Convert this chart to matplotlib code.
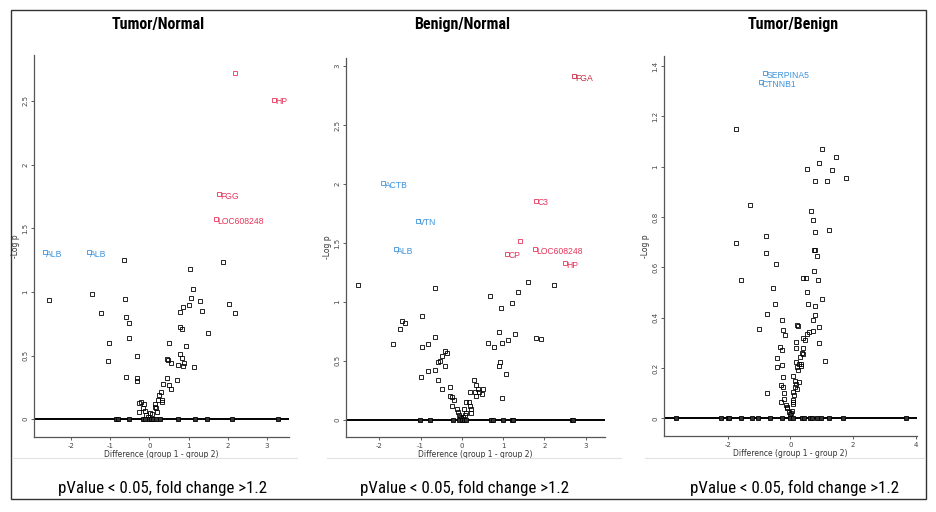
import matplotlib.pyplot as plt
from matplotlib import font_manager
from matplotlib.patches import Rectangle
from matplotlib.lines import Line2D

W, H = 936, 512
RED = '#e8345a'
DARKRED = '#c42a40'
BLUE = '#3b93db'

titles = ['Tumor/Normal', 'Benign/Normal', 'Tumor/Benign']
note = 'pValue < 0.05, fold change >1.2'

# panel 1: Tumor/Normal
tn_x = [-2.55, -1.45, -1.22, -1.04, -1.05, -0.65, -0.63, -0.60, -0.51, -0.53, -0.31, -0.60,
        -0.31, -0.31, -0.20, -0.27, -0.14, -0.27, -0.15, -0.10, -0.085, -0.03, 0.02, 0.07,
        0.15, 0.15, 0.17, 0.19, 0.22, 0.24, 0.31, 0.32, 0.32, 0.36, 0.44, 0.49, 0.56, 0.70,
        0.49, 0.44, 0.48, 0.56, 0.73, 0.77, 0.83, 0.88, 0.87, 0.94, 1.14, 0.78, 0.83, 0.78,
        0.85, 1.00, 1.05, 1.12, 1.04, 1.28, 1.33, 1.50, 1.89, 2.02, 2.18]
tn_y = [0.935, 0.98, 0.83, 0.60, 0.46, 1.25, 0.945, 0.80, 0.757, 0.64, 0.50, 0.33,
        0.327, 0.30, 0.136, 0.128, 0.123, 0.058, 0.084, 0.065, 0.031, 0.018, 0.05, 0.04,
        0.118, 0.097, 0.084, 0.058, 0.154, 0.188, 0.215, 0.154, 0.136, 0.275, 0.327, 0.27,
        0.238, 0.306, 0.597, 0.476, 0.463, 0.445, 0.424, 0.508, 0.482, 0.442, 0.42, 0.573,
        0.41, 0.725, 0.712, 0.843, 0.882, 0.895, 0.953, 1.024, 1.178, 0.929, 0.851, 0.678,
        1.233, 0.903, 0.835]
tn_zero = [-0.85, -0.80, -0.51, -0.15, -0.10, -0.02, 0.05, 0.10, 0.17, 0.26, 0.73, 1.16,
           1.46, 2.11, 3.27]
tn_names = ['ALB', 'ALB', '', 'HP', 'FGG', 'LOC608248']
tn_lx = [-2.67, -1.55, 2.19, 3.18, 1.77, 1.70]
tn_ly = [1.31, 1.31, 2.72, 2.51, 1.77, 1.57]
tn_col = [BLUE, BLUE, RED, RED, RED, RED]

# panel 2: Benign/Normal
bn_x = [-2.52, -1.68, -1.49, -1.46, -1.38, -0.96, -0.96, -0.83, -0.98, -0.83, -0.65, -0.64,
        -0.65, -0.57, -0.52, -0.48, -0.40, -0.35, -0.41, -0.57, -0.48, -0.28, -0.28, -0.23,
        -0.20, -0.23, -0.12, -0.10, -0.06, -0.04, -0.01, 0.02, 0.07, 0.06, 0.10, 0.10, 0.17,
        0.19, 0.22, 0.23, 0.20, 0.30, 0.35, 0.38, 0.31, 0.41, 0.35, 0.48, 0.52, 0.64, 0.77,
        0.67, 0.90, 0.93, 0.91, 0.98, 0.94, 1.06, 0.98, 1.12, 1.21, 1.28, 1.35, 1.60, 1.80,
        1.91, 2.23]
bn_y = [1.145, 0.64, 0.77, 0.84, 0.82, 0.88, 0.62, 0.643, 0.36, 0.416, 0.70, 1.12,
        0.425, 0.487, 0.496, 0.54, 0.584, 0.567, 0.453, 0.34, 0.263, 0.278, 0.198, 0.19,
        0.17, 0.119, 0.09, 0.068, 0.04, 0.023, 0.011, 0.023, 0.042, 0.09, 0.057, 0.147, 0.147,
        0.119, 0.09, 0.057, 0.232, 0.34, 0.297, 0.26, 0.232, 0.238, 0.198, 0.221, 0.263, 0.652,
        0.618, 1.054, 0.453, 0.493, 0.742, 0.652, 0.952, 0.39, 0.181, 0.674, 0.99, 0.725,
        1.088, 1.167, 0.697, 0.686, 1.139]
bn_zero = [-1.01, -0.77, -0.22, -0.06, 0.01, 0.06, 0.09, 0.70, 0.75, 0.99, 1.22, 1.25,
           2.67, 2.70]
bn_names = ['ACTB', 'VTN', 'ALB', 'C3', '', 'CP', 'LOC608248', 'HP', 'FGA']
bn_lx = [-1.91, -1.07, -1.60, 1.80, 1.40, 1.10, 1.78, 2.50, 2.72]
bn_ly = [2.01, 1.69, 1.445, 1.86, 1.513, 1.41, 1.45, 1.33, 2.92]
bn_col = [BLUE, BLUE, BLUE, RED, RED, RED, RED, RED, DARKRED]

# panel 3: Tumor/Benign
tb_x = [-1.73, -1.58, -1.01, -0.77, -0.77, -0.75, -0.75, -0.46, -0.54, -0.48, -0.27, -0.24,
        -0.16, -0.33, -0.27, -0.41, -0.41, -0.27, -0.24, -0.29, -0.24, -0.20, -0.29, -0.20,
        -0.14, -0.12, -0.10, -0.03, -0.01, 0.03, 0.05, 0.07, 0.10, 0.10, 0.07, 0.10, 0.12,
        0.16, 0.14, 0.20, 0.18, 0.27, 0.18, 0.20, 0.24, 0.18, 0.18, 0.22, 0.24, 0.29, 0.33,
        0.35, 0.31, 0.37, 0.41, 0.39, 0.46, 0.39, 0.54, 0.58, 0.41, 0.50, 0.52, 0.56, 0.71,
        0.73, 0.75, 0.79, 0.75, 0.79, 0.79, 0.79, 0.84, 0.88, 0.90, 0.90, 1.01, 1.12, 1.22,
        -1.73, -1.29, 1.01, 1.46, 0.93, 0.52, 1.33, 1.76, 0.78, 1.18, 0.67, 0.72]
tb_y = [0.695, 0.548, 0.356, 0.726, 0.657, 0.416, 0.102, 0.612, 0.52, 0.455, 0.389, 0.352,
        0.332, 0.285, 0.272, 0.24, 0.206, 0.211, 0.166, 0.134, 0.126, 0.102, 0.065, 0.076,
        0.052, 0.044, 0.04, 0.025, 0.017, 0.023, 0.031, 0.057, 0.065, 0.073, 0.106, 0.169,
        0.094, 0.126, 0.15, 0.116, 0.137, 0.145, 0.224, 0.206, 0.193, 0.278, 0.303, 0.373,
        0.368, 0.216, 0.208, 0.216, 0.243, 0.259, 0.254, 0.28, 0.312, 0.32, 0.336, 0.344,
        0.558, 0.558, 0.503, 0.455, 0.389, 0.349, 0.671, 0.671, 0.586, 0.445, 0.41, 0.74,
        0.647, 0.551, 0.363, 0.299, 0.474, 0.227, 0.748,
        1.149, 0.847, 1.07, 1.04, 1.013, 0.99, 0.986, 0.956, 0.945, 0.945, 0.826, 0.79]
tb_zero = [-3.64, -2.20, -1.99, -1.96, -1.56, -1.22, -1.03, -0.65, -0.27, -0.01, 0.07, 0.37,
           0.44, 0.63, 0.69, 0.84, 0.97, 1.24, 1.69, 3.68]
tb_names = ['SERPINA5', 'CTNNB1']
tb_lx = [-0.80, -0.95]
tb_ly = [1.373, 1.336]
tb_col = [BLUE, BLUE]

panels = [
    (tn_x, tn_y, tn_zero, tn_names, tn_lx, tn_ly, tn_col,
     [34, 55, 289, 437], (-2.94, 3.56), (-0.14, 2.86), [-2, -1, 0, 1, 2, 3],
     [0, 0.5, 1, 1.5, 2, 2.5], ['-2', '-1', '0', '1', '2', '3'], ['0', '0.5', '1', '1.5', '2', '2.5']),
    (bn_x, bn_y, bn_zero, bn_names, bn_lx, bn_ly, bn_col,
     [346, 58, 605, 437], (-2.81, 3.47), (-0.147, 3.07), [-2, -1, 0, 1, 2, 3],
     [0, 0.5, 1, 1.5, 2, 2.5, 3], ['-2', '-1', '0', '1', '2', '3'],
     ['0', '0.5', '1', '1.5', '2', '2.5', '3']),
    (tb_x, tb_y, tb_zero, tb_names, tb_lx, tb_ly, tb_col,
     [664, 56, 917, 436], (-4.03, 4.04), (-0.07, 1.44), [-2, 0, 2, 4],
     [0, 0.2, 0.4, 0.6, 0.8, 1, 1.2, 1.4], ['-2', '0', '2', '4'],
     ['0', '0.2', '0.4', '0.6', '0.8', '1', '1.2', '1.4']),
]
title_x = [158, 462, 793]
note_x = [162, 465, 795]

# pick a narrow font if one is around, else plain Liberation Sans
installed = {f.name for f in font_manager.fontManager.ttflist}
narrow = None
for cand in ['Liberation Sans Narrow', 'DejaVu Sans Condensed', 'Roboto Condensed',
             'Open Sans Condensed', 'Noto Sans Condensed']:
    if cand in installed:
        narrow = cand
        break
if narrow:
    head_font, head_size, note_size = narrow, 11.5, 12.2
else:
    head_font, head_size, note_size = 'Liberation Sans', 10.5, 10.5

fig = plt.figure(figsize=(W / 100, H / 100), dpi=100)
fig.patch.set_facecolor('white')

for i, p in enumerate(panels):
    xs, ys, zx, names, lx, ly, cols, box, xl, yl, xt, yt, xtl, ytl = p
    l, t, r, b = box
    ax = fig.add_axes([l / W, 1 - b / H, (r - l) / W, (b - t) / H])
    ax.set_xlim(xl)
    ax.set_ylim(yl)
    for s in ['top', 'right']:
        ax.spines[s].set_visible(False)
    for s in ['left', 'bottom']:
        ax.spines[s].set_color('#555555')
        ax.spines[s].set_linewidth(0.9)
    ax.axhline(0, color='black', lw=1.4, zorder=1)
    ax.plot(xs, ys, 's', ms=2.8, mfc='none', mec='black', mew=0.6, zorder=2)
    ax.plot(zx, [0] * len(zx), 's', ms=2.6, mfc='#333333', mec='black', mew=0.6, zorder=2)
    for n, x, y, c in zip(names, lx, ly, cols):
        ax.plot(x, y, 's', ms=2.4, mfc='none', mec=c, mew=0.6, zorder=3)
        if n:
            ax.annotate(n, (x, y), xytext=(1, 1.5), textcoords='offset points',
                        ha='left', va='top', color=c, fontsize=6.2,
                        family='Liberation Sans')
    ax.set_xticks(xt)
    ax.set_xticklabels(xtl)
    ax.set_yticks(yt)
    ax.set_yticklabels(ytl, rotation=90, va='center')
    ax.tick_params(length=2.5, width=0.6, labelsize=5, colors='#444444', pad=1.5)
    ax.set_xlabel('Difference (group 1 - group 2)', fontsize=5.5, color='#333333', labelpad=1)
    ax.set_ylabel('-Log p', fontsize=5.5, color='#333333', labelpad=2)

    fig.text(title_x[i] / W, 1 - 25 / H, titles[i], ha='center', va='center',
             fontsize=head_size, fontweight='bold', family=head_font)
    fig.text(note_x[i] / W, 1 - 488 / H, note, ha='center', va='center',
             fontsize=note_size, family=head_font)

# light separators under each panel
for x0, x1 in [(12, 297), (327, 621), (645, 925)]:
    fig.add_artist(Line2D([x0 / W, x1 / W], [1 - 458 / H] * 2, color='#e2e2e2', lw=0.8))

# outer frame
fig.add_artist(Rectangle((11 / W, 1 - 499 / H), 915 / W, 489 / H, fill=False,
                         edgecolor='#333333', lw=1.0))

fig.savefig('out.png', dpi=100)
